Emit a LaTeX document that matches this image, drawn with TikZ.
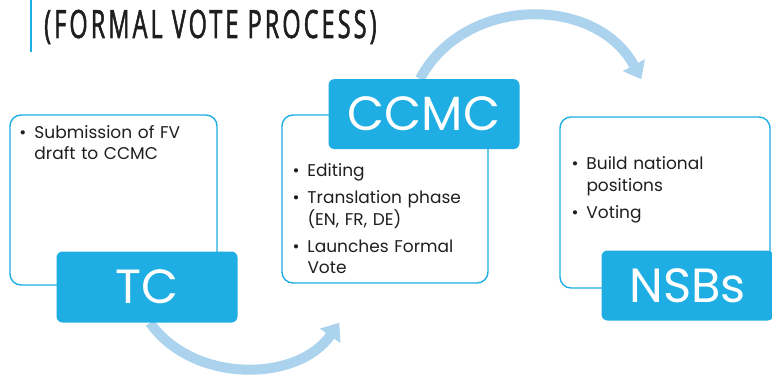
\documentclass[tikz,border=0pt]{standalone}
\usepackage{fontspec}
\setmainfont{Poppins}
\newfontfamily\titlefont[FakeStretch=0.6,LetterSpace=8,FakeBold=1.3]{Open Sans}
\usetikzlibrary{arrows.meta,positioning,backgrounds}
\definecolor{ccblue}{HTML}{1FAEE4}
\definecolor{arrowblue}{HTML}{ABD3EE}
\definecolor{ink}{HTML}{1E1E1E}
\newcommand\bitem[1]{\hangindent=15pt\hangafter=1\noindent\makebox[15pt][l]{\textbullet}#1\par}

\begin{document}
\begin{tikzpicture}[x=1pt,y=1pt,
   outline/.style={draw=ccblue,line width=1.4pt,rounded corners=11pt},
   head/.style={fill=ccblue,rounded corners=6pt,text=white,
      font=\fontsize{48}{48}\selectfont},
   points/.style={anchor=north west,inner sep=0pt,text width=200pt,text=ink,
      font=\fontsize{17}{21.5}\selectfont\setlength\parskip{5.5pt}},
   flow/.style={draw=arrowblue,line width=10pt,
      -{Triangle[length=16pt,width=24pt]}}]
   \useasboundingbox (0,0) rectangle (772,376);
   % title
   \node[anchor=base west,inner sep=0pt,text=ink,
      font=\titlefont\fontsize{39}{39}\selectfont] (title) at (44,338)
      {(FORMAL VOTE PROCESS)};
   \draw[ccblue,line width=2pt] (31,324) -- (31,376);
   % three steps
   \node[outline,minimum width=207pt,minimum height=170pt] (tcbox) at (113.5,176) {};
   \node[head,anchor=south west,minimum width=181pt,minimum height=71pt] (tc)
      at ([xshift=47pt,yshift=-37pt]tcbox.south west) {TC};
   \node[outline,minimum width=206pt,minimum height=168pt] (ccmcbox) at (385,177) {};
   \node[head,anchor=south west,minimum width=191pt,minimum height=70pt] (ccmc)
      at ([xshift=47pt,yshift=-35pt]ccmcbox.north west) {CCMC};
   \node[outline,minimum width=210pt,minimum height=171pt] (nsbbox) at (665,173.5) {};
   \node[head,anchor=south west,minimum width=172pt,minimum height=70pt] (nsb)
      at ([xshift=42pt,yshift=-32pt]nsbbox.south west) {NSBs};
   % bullets
   \node[points] (tctext) at ([xshift=10pt,yshift=-11pt]tcbox.north west)
      {\bitem{Submission of FV\newline draft to CCMC}};
   \node[points] (ccmctext) at ([xshift=11pt,yshift=-49.5pt]ccmcbox.north west)
      {\bitem{Editing}\bitem{Translation phase\newline (EN, FR, DE)}%
       \bitem{Launches Formal\newline Vote}};
   \node[points] (nsbtext) at ([xshift=12pt,yshift=-40.5pt]nsbbox.north west)
      {\bitem{Build national\newline positions}\bitem{Voting}};
   % arrows
   \coordinate (ccmcin) at ([xshift=58pt,yshift=-39pt]ccmcbox.south west);
   \coordinate (nsbin) at ([xshift=82pt,yshift=37pt]nsbbox.north west);
   \begin{scope}[on background layer]
      \draw[flow] ([xshift=3pt]tc.south) to[out=-55,in=-125] (ccmcin);
      \draw[flow] ([xshift=-4pt]ccmc.north) to[out=62,in=118,looseness=1.1] (nsbin);
   \end{scope}
\end{tikzpicture}
\end{document}
